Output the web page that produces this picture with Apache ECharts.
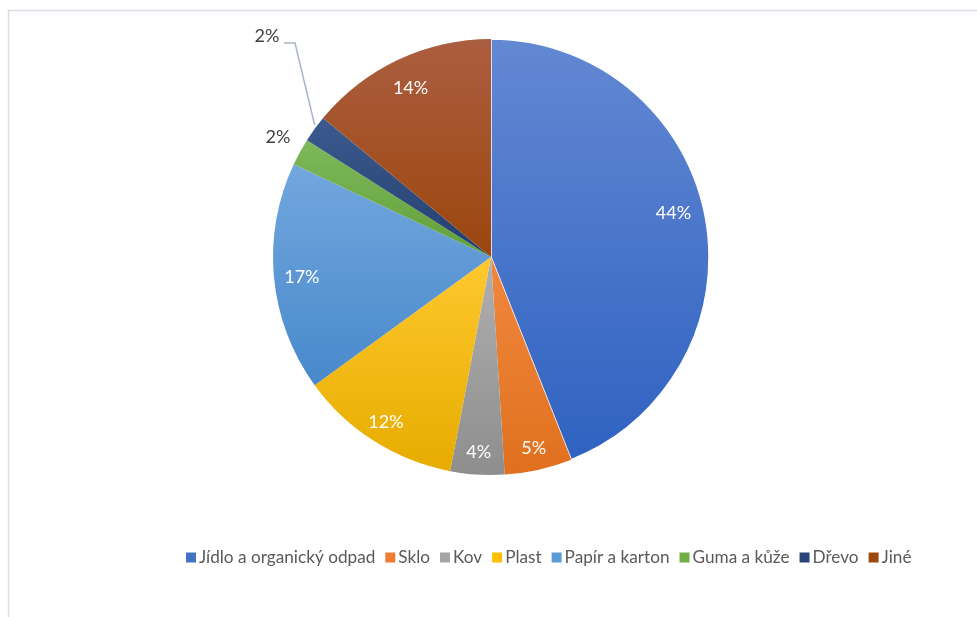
<!DOCTYPE html>
<html><head><meta charset="utf-8">
<script src="https://cdn.jsdelivr.net/npm/echarts@6/dist/echarts.min.js"></script>
<style>html,body{margin:0;padding:0;background:#fff;}#c{width:977px;height:617px;}</style>
</head><body><div id="c"></div>
<script>
const categories = ['Jídlo a organický odpad','Sklo','Kov','Plast','Papír a karton','Guma a kůže','Dřevo','Jiné'];
const values = [44, 5, 4, 12, 17, 2, 2, 14];

const baseColors = ['#4472C4','#ED7D31','#A5A5A5','#FFC000','#5B9BD5','#70AD47','#264478','#9E480E'];
const gradTop = ['#6388D3','#F1883F','#B0B0B0','#FFC82E','#72A7DE','#7DB85A','#3C5A8E','#AB5E40'];
const gradBot = ['#2F62C1','#E0701E','#8E8E8E','#E6AC00','#4889CB','#62A03A','#233F70','#9C460D'];

const CX = 491, CY = 257, R = 218;
const total = values.reduce((a,b)=>a+b,0);
function midAngle(i){ // radians, math convention
  let cum = 0; for (let k=0;k<i;k++) cum += values[k];
  const frac = (cum + values[i]/2)/total;
  return (90 - frac*360) * Math.PI/180;
}
const outsideIdx = [5, 6];
const labelNudge = {0: [-10, -7], 4: [6, 2], 7: [3, 9]};

const chart = echarts.init(document.getElementById('c'));
const FONT = 'Lato, "Open Sans", sans-serif';

const mainData = categories.map((n,i)=>({
  name: n, value: values[i],
  itemStyle: {
    color: new echarts.graphic.LinearGradient(0,0,0,1,[{offset:0,color:gradTop[i]},{offset:1,color:gradBot[i]}]),
    borderColor: '#fff', borderWidth: i===0 ? 1.5 : 0
  },
  label: outsideIdx.includes(i) ? {show:true, position:'outside', color:'#404040', fontSize:18, fontFamily:FONT, formatter: v=>v.percent.toFixed(0)+'%'} : {show:false},
  labelLine: {show: i===6, lineStyle:{color:'#A6B4C8', width:1.5}}
}));

const labelData = categories.map((n,i)=>({
  name: n, value: values[i],
  label: {show: !outsideIdx.includes(i)}
}));

chart.setOption({
  animation: false,
  backgroundColor: '#fff',
  graphic: [
    {type:'polyline', silent:true, shape:{points:[[8.5,617],[8.5,10.5],[977,10.5]]}, style:{stroke:'#D9DEE8', fill:null, lineWidth:1.5}}
  ],
  legend: {
    top: 544, left: 181,
    itemWidth: 10, itemHeight: 10, itemGap: 10,
    icon: 'rect',
    textStyle: {color:'#595959', fontSize:17.2, fontFamily:FONT, padding:[0,0,0,-2]},
    data: categories.map((n,i)=>({name:n, itemStyle:{color: baseColors[i], borderWidth:0}}))
  },
  series: [
    {
      type: 'pie', center: [CX, CY], radius: R, startAngle: 90, clockwise: true,
      avoidLabelOverlap: false, silent: true,
      data: mainData,
      labelLayout: function(p){
        const i = p.dataIndex;
        const a = midAngle(i);
        if (i === 5) {
          const r = 243;
          return {x: CX + r*Math.cos(a), y: CY - r*Math.sin(a) - 3, align:'center', verticalAlign:'middle'};
        }
        if (i === 6) {
          const ex = CX + R*Math.cos(a), ey = CY - R*Math.sin(a) - 4;
          return {x: 267, y: 36, align:'center', verticalAlign:'middle',
            labelLinePoints: [[ex, ey],[295, 43],[284, 43]]};
        }
      }
    },
    {
      type: 'pie', center: [CX, CY], radius: [168, 218], startAngle: 90, clockwise: true,
      silent: true, avoidLabelOverlap: false, legendHoverLink:false,
      itemStyle: {color:'rgba(0,0,0,0)'},
      label: {position:'inside', color:'#fff', fontSize:18, fontFamily:FONT, rotate:0, formatter: v=>v.percent.toFixed(0)+'%'},
      labelLine: {show:false},
      data: labelData,
      labelLayout: function(p){
        const n = labelNudge[p.dataIndex];
        if (n) return {dx: n[0], dy: n[1]};
      },
      tooltip: {show:false}
    }
  ]
});
</script></body></html>
